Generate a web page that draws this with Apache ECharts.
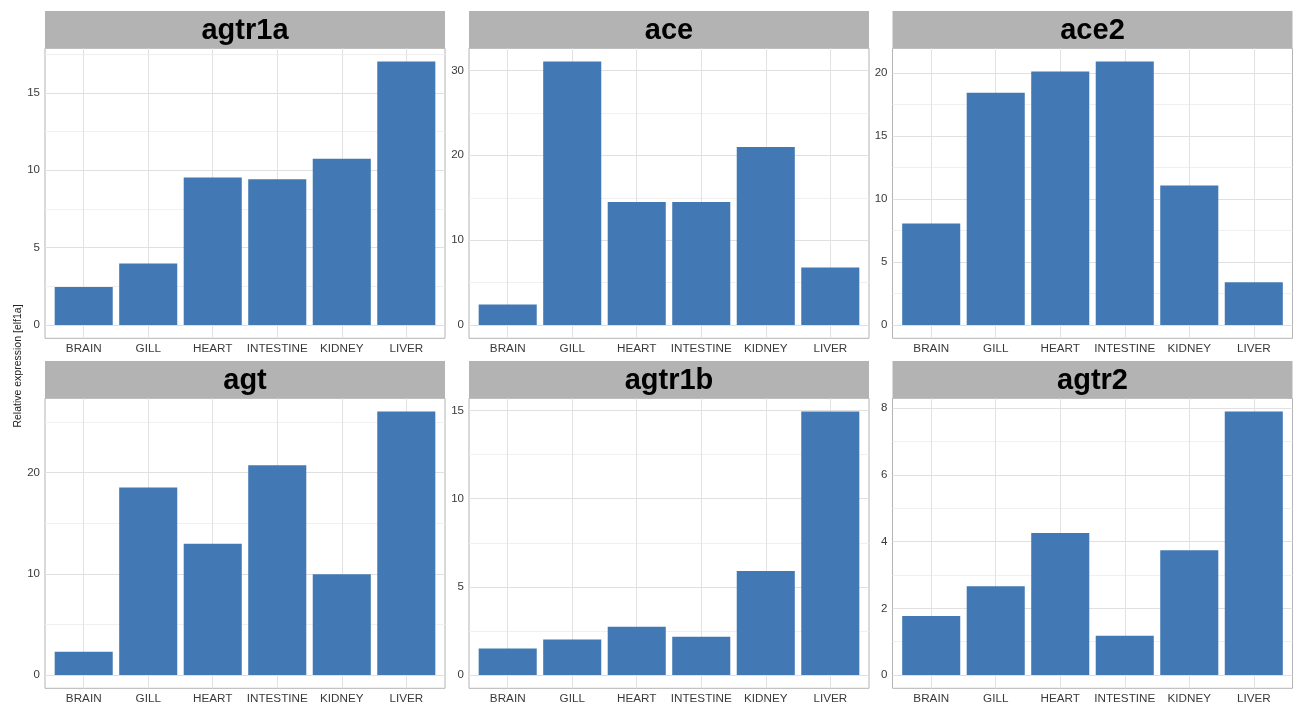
<!DOCTYPE html>
<html>
<head>
<meta charset="utf-8">
<script src="https://cdn.jsdelivr.net/npm/echarts@6/dist/echarts.min.js"></script>
<style>
  html, body { margin: 0; padding: 0; background: #fff; }
  #chart { width: 1293px; height: 703px; }
</style>
</head>
<body>
<div id="chart"></div>
<script>
// values
const tissues = ['BRAIN', 'GILL', 'HEART', 'INTESTINE', 'KIDNEY', 'LIVER']
const genes = ['agtr1a', 'ace', 'ace2', 'agt', 'agtr1b', 'agtr2']
const agtr1a = [2.47, 3.98, 9.53, 9.42, 10.75, 17.03]
const ace = [2.43, 31.05, 14.5, 14.5, 20.98, 6.78]
const ace2 = [8.05, 18.42, 20.11, 20.9, 11.06, 3.4]
const agt = [2.3, 18.53, 12.96, 20.73, 9.97, 26.03]
const agtr1b = [1.51, 2.02, 2.74, 2.17, 5.9, 14.94]
const agtr2 = [1.77, 2.66, 4.26, 1.18, 3.74, 7.9]
const tickSteps = [5, 10, 5, 10, 5, 2]
const yTitle = 'Relative expression [elf1a]'

const values = [agtr1a, ace, ace2, agt, agtr1b, agtr2]

// facet layout (like facet_wrap, 3 columns)
const colLeft = [45, 469, 892.5]
const rowTop = [11, 361]
const panelW = 400
const stripH = 37.3
const frameH = 290
const font = '"Liberation Sans", Arial, sans-serif'
const barColor = '#4279B4'
const labelColor = '#3A3A3A'

const grids = []
const xAxes = []
const yAxes = []
const series = []
const graphics = []

genes.forEach((gene, k) => {
  const col = k % 3
  const row = Math.floor(k / 3)
  const left = colLeft[col]
  const top = rowTop[row] + stripH
  const unit = panelW / (tissues.length + 0.2) // ggplot discrete expansion 0.6 each side
  const maxV = Math.max(...values[k])
  const yMin = -0.05 * maxV
  const yMax = 1.05 * maxV
  const step = tickSteps[k]

  // major + minor break positions
  const allTicks = []
  for (let i = 0; i * step / 2 <= yMax; i++) allTicks.push(i * step / 2)
  const majors = allTicks.filter((v, i) => i % 2 === 0)

  // frame grid: border, horizontal grid lines, y labels
  grids.push({
    left: left, top: top, width: panelW, height: frameH,
    show: true, borderColor: '#B3B3B3', borderWidth: 1,
    backgroundColor: 'transparent', outerBoundsMode: 'none'
  })
  xAxes.push({ type: 'value', gridIndex: 2 * k, show: false, min: 0, max: 1 })
  yAxes.push({
    type: 'value', gridIndex: 2 * k, min: yMin, max: yMax,
    axisLine: { show: false },
    axisTick: { show: false, customValues: allTicks },
    axisLabel: {
      customValues: majors, margin: 5, fontSize: 11.5,
      color: labelColor, fontFamily: font,
      formatter: v => String(v)
    },
    splitLine: { show: true, lineStyle: { color: ['#E0E0E0', '#F0F0F0'], width: 1 } }
  })

  // bar grid: from first to last category centre
  grids.push({
    left: left + 0.6 * unit, top: top,
    width: (tissues.length - 1) * unit, height: frameH,
    outerBoundsMode: 'none'
  })
  xAxes.push({
    type: 'category', gridIndex: 2 * k + 1, data: tissues, boundaryGap: false,
    axisLine: { show: false },
    axisTick: { show: false },
    axisLabel: { interval: 0, margin: 4, fontSize: 11.7, color: labelColor, fontFamily: font },
    splitLine: { show: true, interval: 0, lineStyle: { color: '#E2E2E2', width: 1 } }
  })
  yAxes.push({ type: 'value', gridIndex: 2 * k + 1, min: yMin, max: yMax, show: false })

  series.push({
    type: 'bar', name: gene,
    xAxisIndex: 2 * k + 1, yAxisIndex: 2 * k + 1,
    data: values[k], barWidth: '90%', clip: false,
    itemStyle: { color: barColor }
  })

  // strip with gene name
  graphics.push({
    type: 'rect',
    shape: { x: left, y: rowTop[row], width: panelW, height: stripH },
    style: { fill: '#B3B3B3' }
  })
  graphics.push({
    type: 'text',
    x: left + panelW / 2, y: rowTop[row] + stripH / 2 + 1,
    style: {
      text: gene, fontSize: 29, fontWeight: 'bold', fontFamily: font,
      fill: '#000', align: 'center', verticalAlign: 'middle'
    }
  })
})

graphics.push({
  type: 'text', x: 18, y: 366, rotation: Math.PI / 2,
  style: {
    text: yTitle, fontSize: 10.5, fontFamily: font,
    fill: '#222', align: 'center', verticalAlign: 'middle'
  }
})

const chart = echarts.init(document.getElementById('chart'))
chart.setOption({
  animation: false,
  textStyle: { fontFamily: font },
  grid: grids,
  xAxis: xAxes,
  yAxis: yAxes,
  series: series,
  graphic: graphics
})
</script>
</body>
</html>
